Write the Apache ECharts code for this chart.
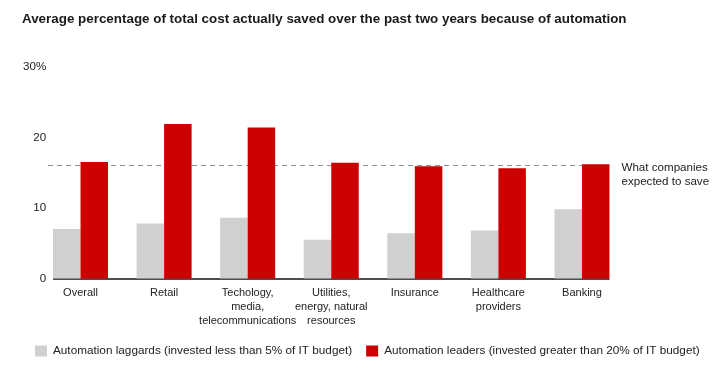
<!DOCTYPE html>
<html>
<head>
<meta charset="utf-8">
<script src="https://cdn.jsdelivr.net/npm/echarts@6/dist/echarts.min.js"></script>
<style>
html,body{margin:0;padding:0;background:#fff;}
#chart{width:725px;height:372px;}
</style>
</head>
<body>
<div id="chart"></div>
<script>
const titleText = 'Average percentage of total cost actually saved over the past two years because of automation';
const categories = ['Overall', 'Retail', 'Techology,\nmedia,\ntelecommunications', 'Utilities,\nenergy, natural\nresources', 'Insurance', 'Healthcare\nproviders', 'Banking'];
const laggardsName = 'Automation laggards (invested less than 5% of IT budget)';
const leadersName = 'Automation leaders (invested greater than 20% of IT budget)';
const laggards = [7.0, 7.8, 8.6, 5.5, 6.4, 6.8, 9.8];
const leaders = [16.5, 21.9, 21.4, 16.4, 15.9, 15.6, 16.2];
const expectedValue = [16];
const expectedLabel = 'What companies\nexpected to save';
const yTicks = [0, 10, 20, 30];

const FONT = '"Liberation Sans", Arial, Helvetica, sans-serif';
const BAR_W = 27.5;

const chart = echarts.init(document.getElementById('chart'), null, {renderer: 'canvas'});

chart.setOption({
  animation: false,
  backgroundColor: '#fff',
  textStyle: {fontFamily: FONT},
  title: {
    text: titleText,
    left: 22,
    top: 13,
    padding: 0,
    textStyle: {fontFamily: FONT, fontSize: 13.4, fontWeight: 'bold', color: '#1a1a1a'}
  },
  legend: {
    left: 35,
    top: 345,
    padding: 0,
    itemWidth: 12,
    itemHeight: 11,
    itemGap: 14,
    icon: 'rect',
    selectedMode: false,
    textStyle: {fontFamily: FONT, fontSize: 11.75, color: '#222', padding: [0, 0, 0, 1]},
    data: [laggardsName, leadersName]
  },
  grid: {left: 38.75, right: 101.25, top: 66.7, bottom: 93.5, containLabel: false},
  xAxis: {
    type: 'category',
    data: categories,
    axisLine: {show: false},
    axisTick: {show: false},
    axisLabel: {
      interval: 0,
      margin: 8,
      fontFamily: FONT,
      fontSize: 11,
      lineHeight: 13.8,
      color: '#222',
      verticalAlign: 'top'
    }
  },
  yAxis: {
    type: 'value',
    min: yTicks[0],
    max: yTicks[yTicks.length - 1],
    interval: 10,
    splitLine: {show: false},
    axisLine: {show: false},
    axisTick: {show: false},
    axisLabel: {
      margin: -7.5,
      align: 'right',
      fontFamily: FONT,
      fontSize: 11.6,
      color: '#222',
      formatter: v => v === yTicks[yTicks.length - 1] ? v + '%' : String(v)
    }
  },
  series: [
    {
      name: laggardsName,
      type: 'bar',
      data: laggards,
      barWidth: BAR_W,
      barGap: '0%',
      itemStyle: {color: '#d0d0d0'},
      z: 3
    },
    {
      name: leadersName,
      type: 'bar',
      data: leaders,
      barWidth: BAR_W,
      barGap: '0%',
      itemStyle: {color: '#cc0000'},
      z: 3
    },
    {
      name: 'guides',
      type: 'custom',
      data: [[0, expectedValue[0]]],
      silent: true,
      z: 2,
      renderItem: function (params, api) {
        const last = categories.length - 1;
        const p0 = api.coord([0, 0]);
        const pN = api.coord([last, 0]);
        const pE = api.coord([0, api.value(1)]);
        const x0 = p0[0] - BAR_W;
        const x1 = pN[0] + BAR_W;
        return {
          type: 'group',
          children: [
            {
              type: 'line',
              shape: {x1: x0 - 5, y1: pE[1], x2: x1, y2: pE[1]},
              style: {stroke: '#8c8c8c', lineWidth: 1, lineDash: [5, 4]},
              z2: 1
            },
            {
              type: 'line',
              shape: {x1: x0, y1: p0[1] + 0.5, x2: x1, y2: p0[1] + 0.5},
              style: {stroke: '#4d4d4d', lineWidth: 2},
              z2: 10
            },
            {
              type: 'text',
              x: x1 + 12,
              y: pE[1] - 5,
              style: {
                text: expectedLabel,
                fontFamily: FONT,
                fontSize: 11.6,
                lineHeight: 14.4,
                fill: '#222',
                verticalAlign: 'top',
                align: 'left'
              }
            }
          ]
        };
      }
    }
  ]
});
</script>
</body>
</html>
